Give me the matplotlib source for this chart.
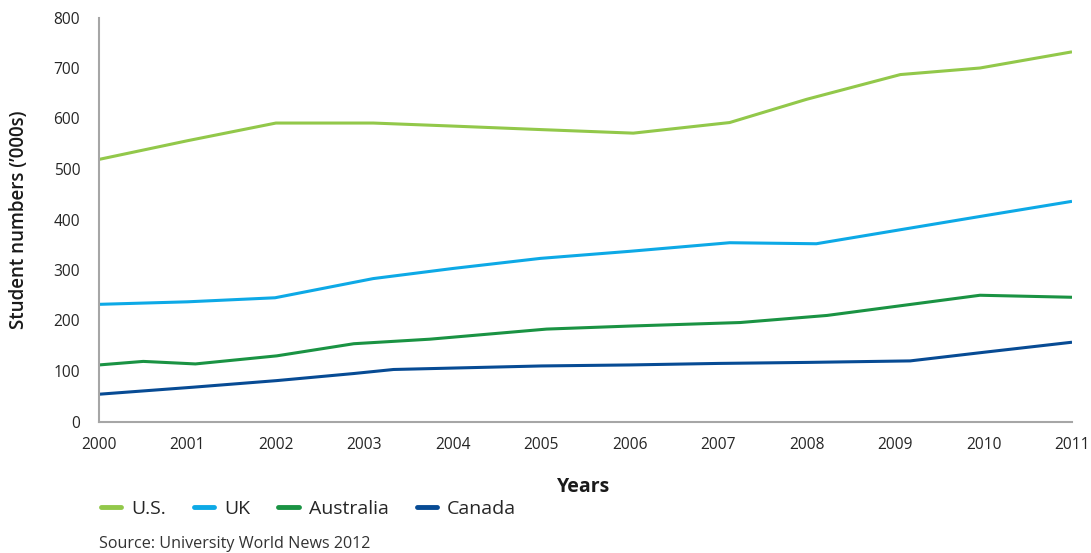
import matplotlib
matplotlib.use("Agg")
import matplotlib.pyplot as plt

plt.rcParams['font.family'] = ['Open Sans', 'DejaVu Sans']

years = list(range(2000, 2012))

us_x = [2000, 2001, 2002, 2003.1, 2004, 2005, 2006.04, 2007.13, 2008, 2009.06, 2009.96, 2011]
us_y = [519, 556, 591, 591, 585, 578, 571, 592, 638, 687, 700, 732]

uk_x = [2000, 2001, 2001.99, 2003.1, 2004, 2004.99, 2006, 2007.13, 2008.11, 2009, 2009.96, 2011]
uk_y = [232, 237, 245, 283, 303, 323, 337, 354, 352, 378, 406, 436]

au_x = [2000, 2000.5, 2001.09, 2002.01, 2002.88, 2003.74, 2005.06, 2006, 2007.25, 2008.23, 2009.96, 2011]
au_y = [112, 119, 114, 130, 154, 163, 183, 189, 196, 210, 250, 246]

ca_x = [2000, 2001.07, 2002.01, 2002.88, 2003.33, 2005, 2006, 2007, 2008, 2009.17, 2010, 2011]
ca_y = [54, 68, 81, 95, 103, 110, 112, 115, 117, 120, 137, 157]

series = [("U.S.", us_x, us_y, "#92C84A"),
          ("UK", uk_x, uk_y, "#0DA9E6"),
          ("Australia", au_x, au_y, "#1A9343"),
          ("Canada", ca_x, ca_y, "#074B94")]

fig = plt.figure(figsize=(10.91, 5.53), dpi=100)
ax = fig.add_axes([99/1091, 1-421.5/553, (1072-99)/1091, (421.5-17.5)/553])

handles = []
for name, xs, ys, c in series:
    h, = ax.plot(xs, ys, color=c, lw=2.2, solid_capstyle='butt', label=name)
    handles.append(h)

ax.set_xlim(2000, 2011)
ax.set_ylim(0, 800)
ax.set_xticks(years)
ax.set_xticklabels([str(y) for y in years])
ax.set_yticks(range(0, 801, 100))
ax.tick_params(axis='both', length=0, labelsize=11.2, labelcolor='#262626')
ax.tick_params(axis='x', pad=11)
ax.tick_params(axis='y', pad=13.5)
for s in ['top', 'right']:
    ax.spines[s].set_visible(False)
for s in ['left', 'bottom']:
    ax.spines[s].set_color('#A6A6A6')
    ax.spines[s].set_linewidth(1.5)

ax.set_ylabel("Student numbers (\u2019000s)", fontsize=13.5, fontweight='semibold', color='#1a1a1a')
ax.yaxis.set_label_coords(-70/973, 0.5)
fig.text(584/1091, 1-487/553, "Years", fontsize=14, fontweight='bold', color='#1a1a1a', ha='center', va='center')

leg = fig.legend(handles=handles, loc='center left', bbox_to_anchor=(101/1091, 1-509/553), ncol=4,
                 frameon=False, fontsize=14, handlelength=1.05, handletextpad=0.5, columnspacing=1.45,
                 labelcolor='#262626', borderpad=0, borderaxespad=0)
for l in leg.get_lines():
    l.set_linewidth(3.5)
    l.set_solid_capstyle('round')

fig.text(99/1091, 1-544/553, "Source: University World News 2012", fontsize=11.6, color='#333333', ha='left', va='center')

fig.savefig("out.png", dpi=100)
